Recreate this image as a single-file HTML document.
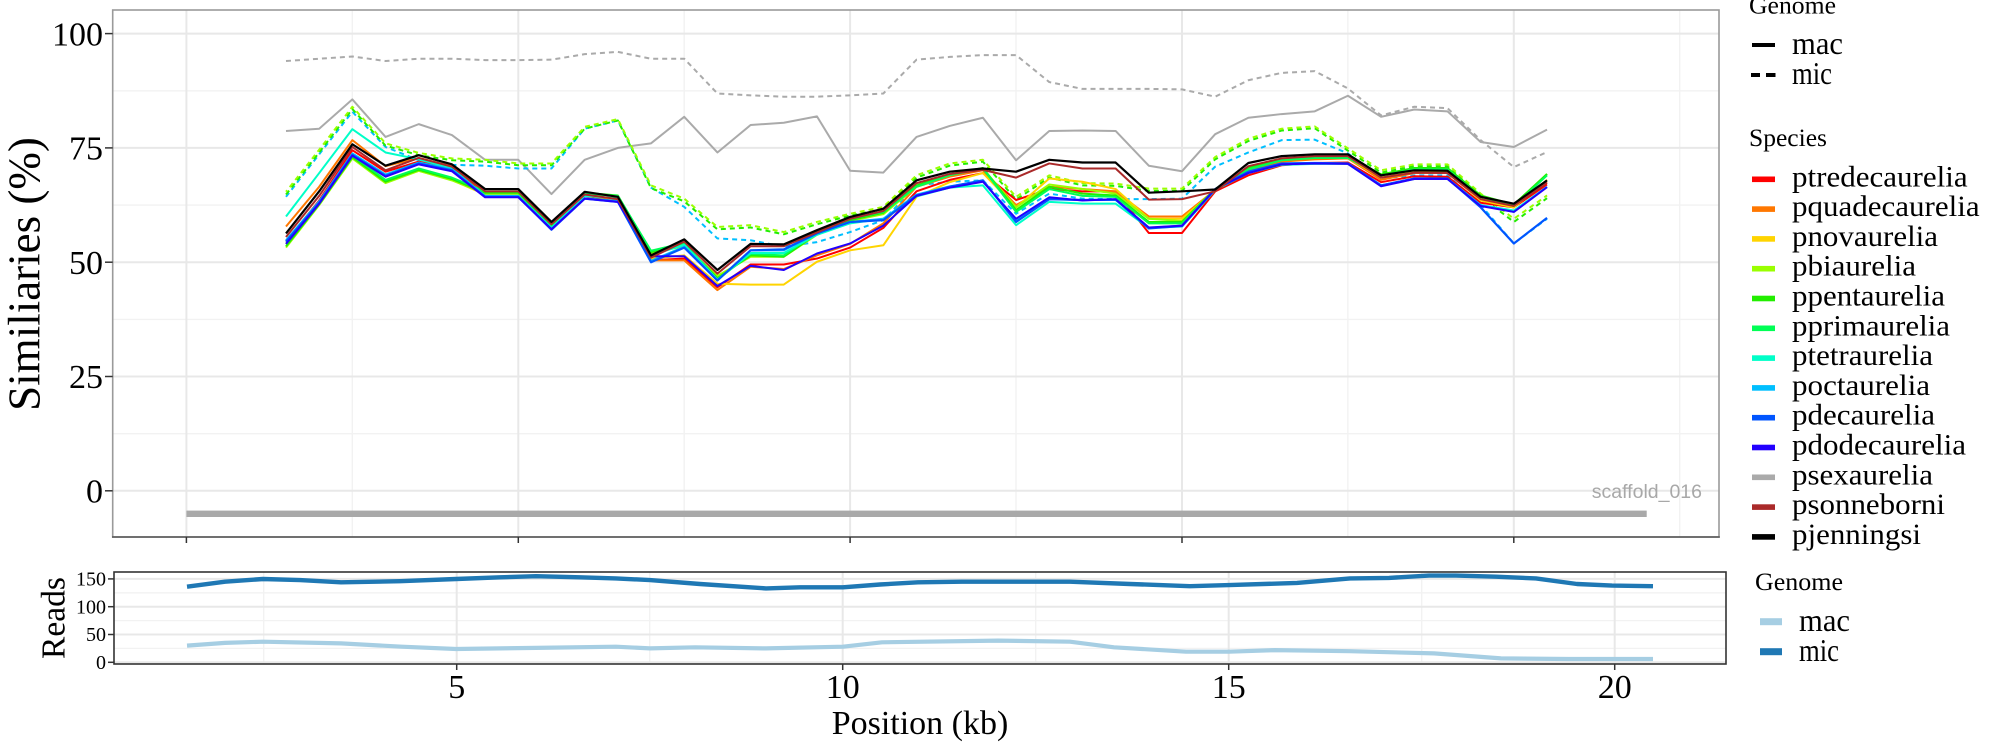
<!DOCTYPE html>
<html>
<head>
<meta charset="utf-8">
<style>
  html, body { margin: 0; padding: 0; background: #ffffff; }
  svg { display: block; }
  .serif { font-family: "Liberation Serif", "Times New Roman", serif; fill: #000; }
  .ln { fill: none; stroke-linejoin: round; vector-effect: non-scaling-stroke; }
</style>
</head>
<body>
<svg width="2000" height="750" viewBox="0 0 2000 750" xmlns="http://www.w3.org/2000/svg">
  <rect x="0" y="0" width="2000" height="750" fill="#ffffff"/>

  <!-- ============ TOP PANEL ============ -->
  <g stroke="#F2F2F2" stroke-width="1.4">
    <line x1="113" y1="433.7" x2="1719" y2="433.7"/>
    <line x1="113" y1="319.4" x2="1719" y2="319.4"/>
    <line x1="113" y1="205.1" x2="1719" y2="205.1"/>
    <line x1="113" y1="90.8" x2="1719" y2="90.8"/>
    <line x1="352.3" y1="10" x2="352.3" y2="537"/>
    <line x1="684.2" y1="10" x2="684.2" y2="537"/>
    <line x1="1016" y1="10" x2="1016" y2="537"/>
    <line x1="1347.9" y1="10" x2="1347.9" y2="537"/>
    <line x1="1679.7" y1="10" x2="1679.7" y2="537"/>
  </g>
  <g stroke="#E8E8E8" stroke-width="2">
    <line x1="113" y1="490.8" x2="1719" y2="490.8"/>
    <line x1="113" y1="376.5" x2="1719" y2="376.5"/>
    <line x1="113" y1="262.2" x2="1719" y2="262.2"/>
    <line x1="113" y1="147.9" x2="1719" y2="147.9"/>
    <line x1="113" y1="33.6" x2="1719" y2="33.6"/>
    <line x1="186.4" y1="10" x2="186.4" y2="537"/>
    <line x1="518.3" y1="10" x2="518.3" y2="537"/>
    <line x1="850.1" y1="10" x2="850.1" y2="537"/>
    <line x1="1182" y1="10" x2="1182" y2="537"/>
    <line x1="1513.8" y1="10" x2="1513.8" y2="537"/>
  </g>

  <rect x="186.4" y="510.6" width="1460.3" height="6.4" fill="#A9A9A9"/>
  <text x="1702" y="498" text-anchor="end" font-family="Liberation Sans, Arial, sans-serif" font-size="19.5" fill="#A8A8A8">scaffold_016</text>

  <g transform="matrix(33.185 0 0 -4.572 286 490.8)">
    <polyline class="ln" stroke="#AAAAAA" stroke-width="2" stroke-dasharray="5 4" points="0,94 1,94.5 2,95 3,94 4,94.5 5,94.5 6,94.2 7,94.2 8,94.3 9,95.5 10,96 11,94.5 12,94.5 13,86.9 14,86.5 15,86.2 16,86.2 17,86.5 18,86.9 19,94.3 20,94.9 21,95.3 22,95.3 23,89.4 24,87.9 25,87.9 26,87.9 27,87.8 28,86.2 29,89.8 30,91.4 31,91.8 32,88 33,82.1 34,84 35,83.7 36,76.7 37,70.8 38,74.1"/>
    <polyline class="ln" stroke="#AAAAAA" stroke-width="2" points="0,78.7 1,79.2 2,85.6 3,77.4 4,80.2 5,77.8 6,72.4 7,72.4 8,64.9 9,72.4 10,75 11,76 12,81.8 13,74 14,80 15,80.5 16,81.9 17,70 18,69.6 19,77.4 20,79.8 21,81.6 22,72.3 23,78.7 24,78.8 25,78.7 26,71.1 27,69.9 28,78 29,81.6 30,82.4 31,83 32,86.4 33,81.8 34,83.4 35,83 36,76.3 37,75.2 38,79"/>

    <polyline class="ln" stroke="#00BFFF" stroke-width="2" stroke-dasharray="5 4" points="0,64.3 1,73.6 2,82.9 3,75.2 4,72.3 5,71.3 6,71.1 7,70.5 8,70.5 9,79.2 10,81 11,66.3 12,62.1 13,55.2 14,54.8 15,53.4 16,54.4 17,56.6 18,59.2 19,66.8 20,67.6 21,67.9 22,60.6 23,65 24,63.9 25,63.8 26,63.8 27,63.9 28,70.9 29,74 30,76.7 31,76.8 32,73.8 33,68.3 34,69 35,69 36,62.5 37,54.1 38,59.5"/>
    <polyline class="ln" stroke="#22EE00" stroke-width="2" stroke-dasharray="5 4" points="0,64.8 1,74 2,83.5 3,75.5 4,73.4 5,72.3 6,72 7,71.2 8,71.2 9,79.2 10,81 11,66.2 12,63.3 13,57.2 14,57.6 15,56.1 16,58.3 17,60.2 18,61.6 19,68.5 20,71.1 21,72 22,63.7 23,68.5 24,66.8 25,66.7 26,65.6 27,65.6 28,72.5 29,76.5 30,78.8 31,79.3 32,74.4 33,69.6 34,71 35,71 36,64.4 37,58.8 38,64"/>
    <polyline class="ln" stroke="#9AFF00" stroke-width="2" stroke-dasharray="5 4" stroke-dashoffset="3" points="0,65.4 1,74.6 2,84 3,76 4,73.9 5,72.7 6,72.4 7,71.6 8,71.6 9,79.6 10,81.3 11,66.8 12,63.9 13,57.7 14,58.1 15,56.6 16,58.8 17,60.6 18,62.1 19,69 20,71.6 21,72.4 22,64.3 23,69 24,67.3 25,67.2 26,66.1 27,66.1 28,73 29,77 30,79.2 31,79.7 32,74.9 33,70.1 34,71.4 35,71.4 36,65 37,59.5 38,64.6"/>

    <polyline class="ln" stroke="#FF0000" stroke-width="2" points="0,54.5 1,63.5 2,74.5 3,69.8 4,72 5,70.4 6,65 7,65 8,57.8 9,64.5 10,63.5 11,50.4 12,50.8 13,44.5 14,49.5 15,49.5 16,50.8 17,53.2 18,57.5 19,65.5 20,68 21,69.5 22,63.6 23,66 24,65.5 25,65.5 26,56.4 27,56.4 28,65.5 29,69 30,71.2 31,71.7 32,71.8 33,67.5 34,68.8 35,68.7 36,63 37,62 38,67"/>
    <polyline class="ln" stroke="#FF7700" stroke-width="2" points="0,57.8 1,66.5 2,76.7 3,71 4,72.8 5,71 6,65.3 7,65.3 8,57.8 9,64.8 10,63.7 11,50.4 12,50.4 13,43.9 14,49 15,48.5 16,51.5 17,54 18,58.5 19,66.5 20,68.7 21,70.1 22,62.5 23,66.5 24,66 25,65.5 26,60 27,60 28,65.8 29,70.2 30,72 31,72.5 32,72.7 33,68 34,69.5 35,69.5 36,63.6 37,62.5 38,67.5"/>
    <polyline class="ln" stroke="#FFD400" stroke-width="2" points="0,54 1,63 2,73 3,67.5 4,70 5,68 6,64.8 7,64.8 8,57.5 9,64.6 10,63.8 11,50.8 12,51.5 13,45.3 14,45.1 15,45.1 16,50.1 17,52.6 18,53.7 19,64.3 20,67.5 21,69.5 22,62 23,68.3 24,67.6 25,66 26,59.5 27,59.5 28,65.8 29,70.5 30,72.5 31,72.8 32,72.8 33,68.5 34,69.8 35,69.8 36,63.5 37,62 38,68"/>
    <polyline class="ln" stroke="#9AFF00" stroke-width="2" points="0,53.2 1,62.5 2,72.7 3,67.3 4,70 5,67.9 6,65 7,65 8,57.5 9,65 10,64.5 11,52 12,53.5 13,47 14,51.2 15,51.2 16,56 17,59 18,60.5 19,66.5 20,69 21,70.5 22,62 23,67 24,66 25,65 26,59.5 27,59 28,66 29,70.5 30,72.5 31,73 32,73 33,69 34,70.5 35,70.5 36,64.5 37,62.5 38,69.3"/>
    <polyline class="ln" stroke="#22EE00" stroke-width="2" points="0,53.5 1,62.7 2,73 3,67.6 4,70.2 5,68.2 6,65.2 7,65.2 8,57.8 9,65.2 10,64.6 11,52.2 12,54 13,46.5 14,51.5 15,51.2 16,56.2 17,59.2 18,60.8 19,66.8 20,69.2 21,70.6 22,61.4 23,66.5 24,65 25,64.6 26,58.8 27,58.8 28,66 29,70.6 30,72.6 31,73.1 32,73.1 33,69.2 34,70.6 35,70.6 36,64.6 37,62.6 38,69.3"/>
    <polyline class="ln" stroke="#00FF55" stroke-width="2" points="0,54 1,63 2,73.3 3,68 4,70.5 5,68.5 6,65.5 7,65.5 8,58 9,65 10,64.5 11,52.5 12,54.2 13,46.2 14,51.8 15,51.5 16,56.5 17,59.5 18,61 19,66.5 20,69 21,70.5 22,61 23,66 24,64.5 25,64.3 26,58.5 27,58.5 28,66 29,70.3 30,72.3 31,72.8 32,72.8 33,69 34,70.3 35,70.3 36,64.3 37,62.3 38,69"/>
    <polyline class="ln" stroke="#00FFC8" stroke-width="2" points="0,60 1,69.5 2,79.1 3,74 4,72.5 5,70.5 6,64.5 7,64.5 8,57.5 9,64.5 10,64 11,51.5 12,53.8 13,46.2 14,52 15,52 16,56 17,58.5 18,59.5 19,64.4 20,66.3 21,66.8 22,58.1 23,63.2 24,62.8 25,62.8 26,57.5 27,57.8 28,65.8 29,69.5 30,71.3 31,71.5 32,71.5 33,66.8 34,68.2 35,68.2 36,62.5 37,61.3 38,66.5"/>
    <polyline class="ln" stroke="#00BFFF" stroke-width="2" points="0,54.8 1,63.3 2,73.8 3,69.2 4,71.8 5,70.3 6,64.5 7,64.5 8,57.3 9,64 10,63.4 11,50.3 12,53.4 13,46 14,52.6 15,52.6 16,56.3 17,58.8 18,59.5 19,64.8 20,66.6 21,67.8 22,59 23,63.8 24,63.6 25,63.6 26,57.5 27,58 28,66 29,69.8 30,71.6 31,71.7 32,71.6 33,66.8 34,68.3 35,68.3 36,62.5 37,61 38,66.5"/>
    <polyline class="ln" stroke="#0055FF" stroke-width="2.2" points="0,54.5 1,63 2,73.5 3,68.9 4,71.6 5,70.1 6,64.3 7,64.3 8,57.1 9,63.9 10,63.2 11,50 12,53.2 13,46 14,52.6 15,52.8 16,56.3 17,58.8 18,59.2 19,64.6 20,66.5 21,67.9 22,58.8 23,63.8 24,63.6 25,63.7 26,57.4 27,57.9 28,66 29,69.8 30,71.6 31,71.7 32,71.6 33,66.8 34,68.3 35,68.3 36,62 37,54.1 38,59.7"/>
    <polyline class="ln" stroke="#2200FF" stroke-width="2" points="0,54 1,62.8 2,73.3 3,68.7 4,71.4 5,69.9 6,64.2 7,64.2 8,57.2 9,63.9 10,63.2 11,51.3 12,51.3 13,44.8 14,49.2 15,48.3 16,51.9 17,54.1 18,58 19,64.5 20,66.3 21,67.6 22,59.5 23,64.2 24,63.5 25,63.8 26,57.6 27,58 28,66 29,69.5 30,71.4 31,71.6 32,71.5 33,66.6 34,68.2 35,68.2 36,62.3 37,61 38,66.4"/>
    <polyline class="ln" stroke="#AA2A2A" stroke-width="2" points="0,55.5 1,64.5 2,75.2 3,70.1 4,72.8 5,70.9 6,65.5 7,65.5 8,58.3 9,64.8 10,63.8 11,51 12,54.5 13,47.5 14,53.5 15,53.5 16,56.5 17,59.5 18,61.2 19,67.3 20,69.3 21,70.2 22,68.5 23,71.6 24,70.5 25,70.5 26,63.7 27,63.8 28,65.5 29,71 30,72.7 31,73.2 32,73.2 33,68.5 34,69.6 35,69.5 36,63.8 37,62.3 38,67.4"/>
    <polyline class="ln" stroke="#000000" stroke-width="2.2" points="0,56.3 1,65.5 2,75.8 3,71.1 4,73.4 5,71.4 6,66 7,66 8,58.8 9,65.4 10,64.3 11,51.5 12,55 13,48.3 14,54 15,53.9 16,57 17,59.9 18,61.7 19,67.9 20,69.8 21,70.5 22,69.8 23,72.4 24,71.8 25,71.8 26,65.2 27,65.5 28,65.9 29,71.7 30,73.2 31,73.6 32,73.6 33,69 34,70.1 35,70 36,64.3 37,62.8 38,67.9"/>
  </g>

  <rect x="112.7" y="10" width="1606.3" height="527" fill="none" stroke="#9A9A9A" stroke-width="1.6"/>
  <line x1="112" y1="537" x2="1719.8" y2="537" stroke="#555555" stroke-width="1.6"/>

  <g stroke="#333333" stroke-width="1.5">
    <line x1="105" y1="490.8" x2="112.7" y2="490.8"/>
    <line x1="105" y1="376.5" x2="112.7" y2="376.5"/>
    <line x1="105" y1="262.2" x2="112.7" y2="262.2"/>
    <line x1="105" y1="147.9" x2="112.7" y2="147.9"/>
    <line x1="105" y1="33.6" x2="112.7" y2="33.6"/>
    <line x1="186.4" y1="537" x2="186.4" y2="543"/>
    <line x1="518.3" y1="537" x2="518.3" y2="543"/>
    <line x1="850.1" y1="537" x2="850.1" y2="543"/>
    <line x1="1182" y1="537" x2="1182" y2="543"/>
    <line x1="1513.8" y1="537" x2="1513.8" y2="543"/>
  </g>

  <g class="serif" font-size="34" text-anchor="end">
    <text x="103" y="45.3">100</text>
    <text x="103" y="159.6">75</text>
    <text x="103" y="273.9">50</text>
    <text x="103" y="388.2">25</text>
    <text x="103" y="502.5">0</text>
  </g>

  <text class="serif" font-size="45" text-anchor="middle" transform="translate(39.5,274) rotate(-90)">Similiaries (%)</text>

  <!-- ============ BOTTOM PANEL ============ -->
  <g stroke="#F2F2F2" stroke-width="1.3">
    <line x1="114" y1="648.4" x2="1726" y2="648.4"/>
    <line x1="114" y1="620.6" x2="1726" y2="620.6"/>
    <line x1="114" y1="592.8" x2="1726" y2="592.8"/>
    <line x1="263.7" y1="572" x2="263.7" y2="664"/>
    <line x1="649.7" y1="572" x2="649.7" y2="664"/>
    <line x1="1035.7" y1="572" x2="1035.7" y2="664"/>
    <line x1="1421.7" y1="572" x2="1421.7" y2="664"/>
  </g>
  <g stroke="#E8E8E8" stroke-width="2">
    <line x1="114" y1="662.3" x2="1726" y2="662.3"/>
    <line x1="114" y1="634.5" x2="1726" y2="634.5"/>
    <line x1="114" y1="606.7" x2="1726" y2="606.7"/>
    <line x1="114" y1="578.9" x2="1726" y2="578.9"/>
    <line x1="456.7" y1="572" x2="456.7" y2="664"/>
    <line x1="842.7" y1="572" x2="842.7" y2="664"/>
    <line x1="1228.7" y1="572" x2="1228.7" y2="664"/>
    <line x1="1614.7" y1="572" x2="1614.7" y2="664"/>
  </g>

  <polyline fill="none" stroke="#A6CEE3" stroke-width="4.2" stroke-linejoin="round" points="187,645.6 225,642.9 263,641.7 341,643.4 402,646.7 456,649 536,647.9 616,646.7 650,648.4 695,647.3 766,648.4 843,646.7 882,642.3 998,640.6 1070,641.7 1114,647.3 1186,651.7 1229,651.7 1275,650.1 1350,651.2 1434,653.4 1501,658.4 1568,659 1653,659"/>
  <polyline fill="none" stroke="#1F78B4" stroke-width="4.4" stroke-linejoin="round" points="187,586.7 225,581.7 263,579 300,580.1 341,582.3 400,581.2 456,579 500,577.3 536,576.2 580,577.3 616,578.4 650,580.1 700,584 766,588.4 800,587.3 843,587.3 880,584.5 918,582.3 962,581.7 1070,581.7 1130,584 1190,586.2 1229,585.1 1297,582.9 1350,578.4 1389,577.9 1429,575.6 1456,575.6 1496,576.7 1536,578.4 1577,584 1612,585.6 1653,586.2"/>

  <rect x="114" y="572" width="1612" height="92" fill="none" stroke="#333333" stroke-width="1.6"/>

  <g stroke="#333333" stroke-width="1.5">
    <line x1="108" y1="662.3" x2="114" y2="662.3"/>
    <line x1="108" y1="634.5" x2="114" y2="634.5"/>
    <line x1="108" y1="606.7" x2="114" y2="606.7"/>
    <line x1="108" y1="578.9" x2="114" y2="578.9"/>
    <line x1="456.7" y1="664" x2="456.7" y2="670"/>
    <line x1="842.7" y1="664" x2="842.7" y2="670"/>
    <line x1="1228.7" y1="664" x2="1228.7" y2="670"/>
    <line x1="1614.7" y1="664" x2="1614.7" y2="670"/>
  </g>

  <g class="serif" font-size="20" text-anchor="end">
    <text x="106" y="585.6">150</text>
    <text x="106" y="613.4">100</text>
    <text x="106" y="641.2">50</text>
    <text x="106" y="669">0</text>
  </g>

  <g class="serif" font-size="34" text-anchor="middle">
    <text x="456.7" y="698">5</text>
    <text x="842.7" y="698">10</text>
    <text x="1228.7" y="698">15</text>
    <text x="1614.7" y="698">20</text>
  </g>

  <text class="serif" font-size="33.5" text-anchor="middle" transform="translate(64.5,618) rotate(-90)">Reads</text>
  <text class="serif" font-size="34" text-anchor="middle" x="920" y="734">Position (kb)</text>

  <!-- ============ LEGENDS ============ -->
  <text class="serif" font-size="25" x="1749" y="13.5" textLength="87" lengthAdjust="spacingAndGlyphs">Genome</text>
  <line x1="1752" y1="45" x2="1775" y2="45" stroke="#000" stroke-width="4"/>
  <line x1="1751" y1="75" x2="1760" y2="75" stroke="#000" stroke-width="4"/>
  <line x1="1766" y1="75" x2="1775.5" y2="75" stroke="#000" stroke-width="4"/>
  <text class="serif" font-size="32" x="1792" y="54" textLength="51" lengthAdjust="spacingAndGlyphs">mac</text>
  <text class="serif" font-size="32" x="1792" y="84" textLength="40" lengthAdjust="spacingAndGlyphs">mic</text>

  <text class="serif" font-size="25" x="1749" y="146" textLength="78" lengthAdjust="spacingAndGlyphs">Species</text>
  <g>
    <rect x="1752" y="176.5" width="23" height="5.6" fill="#FF0000"/>
    <rect x="1752" y="206.3" width="23" height="5.6" fill="#FF7700"/>
    <rect x="1752" y="236.1" width="23" height="5.6" fill="#FFD400"/>
    <rect x="1752" y="265.9" width="23" height="5.6" fill="#9AFF00"/>
    <rect x="1752" y="295.7" width="23" height="5.6" fill="#22EE00"/>
    <rect x="1752" y="325.5" width="23" height="5.6" fill="#00FF55"/>
    <rect x="1752" y="355.3" width="23" height="5.6" fill="#00FFC8"/>
    <rect x="1752" y="385.1" width="23" height="5.6" fill="#00BFFF"/>
    <rect x="1752" y="414.9" width="23" height="5.6" fill="#0055FF"/>
    <rect x="1752" y="444.7" width="23" height="5.6" fill="#2200FF"/>
    <rect x="1752" y="474.5" width="23" height="5.6" fill="#AAAAAA"/>
    <rect x="1752" y="504.3" width="23" height="5.6" fill="#AA2A2A"/>
    <rect x="1752" y="534.1" width="23" height="5.6" fill="#000000"/>
  </g>
  <g class="serif" font-size="30">
    <text x="1792" y="186.3" textLength="175.6" lengthAdjust="spacingAndGlyphs">ptredecaurelia</text>
    <text x="1792" y="216.1" textLength="187.6" lengthAdjust="spacingAndGlyphs">pquadecaurelia</text>
    <text x="1792" y="245.9" textLength="146" lengthAdjust="spacingAndGlyphs">pnovaurelia</text>
    <text x="1792" y="275.7" textLength="124" lengthAdjust="spacingAndGlyphs">pbiaurelia</text>
    <text x="1792" y="305.5" textLength="153" lengthAdjust="spacingAndGlyphs">ppentaurelia</text>
    <text x="1792" y="335.3" textLength="158" lengthAdjust="spacingAndGlyphs">pprimaurelia</text>
    <text x="1792" y="365.1" textLength="141" lengthAdjust="spacingAndGlyphs">ptetraurelia</text>
    <text x="1792" y="394.9" textLength="138" lengthAdjust="spacingAndGlyphs">poctaurelia</text>
    <text x="1792" y="424.7" textLength="143" lengthAdjust="spacingAndGlyphs">pdecaurelia</text>
    <text x="1792" y="454.5" textLength="174" lengthAdjust="spacingAndGlyphs">pdodecaurelia</text>
    <text x="1792" y="484.3" textLength="141" lengthAdjust="spacingAndGlyphs">psexaurelia</text>
    <text x="1792" y="514.1" textLength="153" lengthAdjust="spacingAndGlyphs">psonneborni</text>
    <text x="1792" y="543.9" textLength="129" lengthAdjust="spacingAndGlyphs">pjenningsi</text>
  </g>

  <text class="serif" font-size="25" x="1755" y="590" textLength="88" lengthAdjust="spacingAndGlyphs">Genome</text>
  <rect x="1760" y="618.2" width="22" height="7" fill="#A6CEE3"/>
  <rect x="1760" y="648.2" width="22" height="7" fill="#1F78B4"/>
  <text class="serif" font-size="32" x="1799" y="631" textLength="51" lengthAdjust="spacingAndGlyphs">mac</text>
  <text class="serif" font-size="32" x="1799" y="661" textLength="40" lengthAdjust="spacingAndGlyphs">mic</text>
</svg>
</body>
</html>
